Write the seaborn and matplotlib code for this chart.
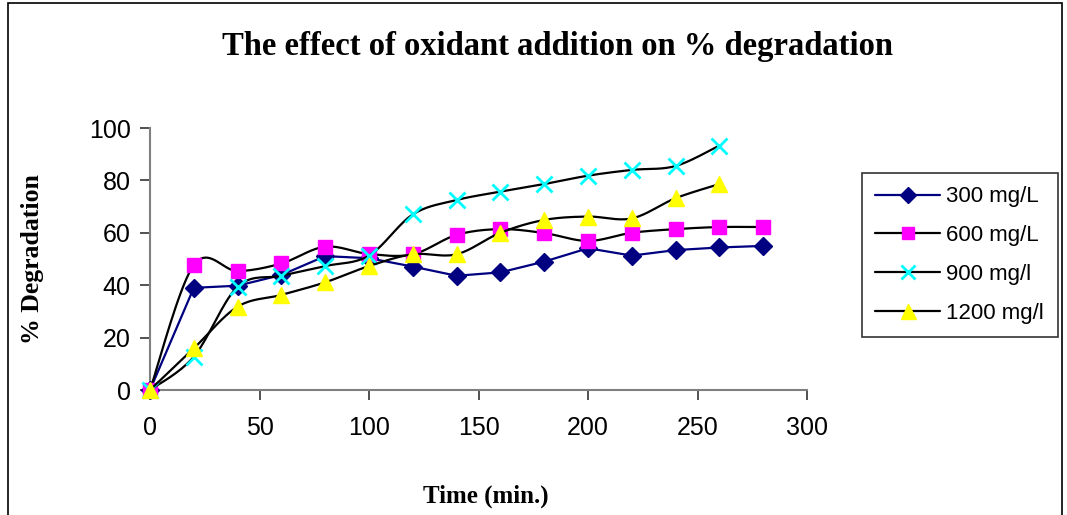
import numpy as np
import pandas as pd
import matplotlib
matplotlib.use("Agg")
import matplotlib.pyplot as plt
import seaborn as sns
from matplotlib.lines import Line2D
from matplotlib.patches import Rectangle

# ---- data ----
time_min = [0, 20, 40, 60, 80, 100, 120, 140, 160, 180, 200, 220, 240, 260, 280]
deg_300 = [0, 39.0, 39.8, 43.9, 51.1, 50.3, 47.1, 43.6, 44.9, 49.0, 54.1, 51.3, 53.4, 54.4, 55.0]
deg_600 = [0, 47.7, 45.4, 48.3, 54.7, 51.9, 51.8, 59.2, 61.4, 59.9, 56.9, 60.0, 61.4, 62.2, 62.2]
time_900 = [0, 20, 40, 60, 80, 100, 120, 140, 160, 180, 200, 220, 240, 260]
deg_900 = [0, 12.7, 39.4, 43.6, 47.3, 51.3, 67.0, 72.5, 75.7, 78.6, 81.8, 84.0, 85.5, 93.3]
time_1200 = [0, 20, 40, 60, 80, 100, 120, 140, 160, 180, 200, 220, 240, 260]
deg_1200 = [0, 15.9, 31.8, 36.3, 41.1, 47.3, 51.8, 51.8, 60.0, 64.9, 66.2, 65.5, 73.2, 78.6]

labels = ["300 mg/L", "600 mg/L", "900 mg/l", "1200 mg/l"]
x_ticks = [0, 50, 100, 150, 200, 250, 300]
y_ticks = [0, 20, 40, 60, 80, 100]
title = "The effect of oxidant addition on % degradation"
xlabel = "Time (min.)"
ylabel = "% Degradation"


def smooth_curve(x, y, n=20):
    """Excel-style smoothed line (Catmull-Rom / Bezier) through the data points."""
    x = np.asarray(x, float)
    y = np.asarray(y, float)
    px = np.concatenate([[x[0]], x, [x[-1]]])
    py = np.concatenate([[y[0]], y, [y[-1]]])
    xs, ys = [], []
    t = np.linspace(0, 1, n)
    for i in range(1, len(px) - 2):
        p0 = np.array([px[i], py[i]])
        p3 = np.array([px[i + 1], py[i + 1]])
        c1 = p0 + (np.array([px[i + 1], py[i + 1]]) - np.array([px[i - 1], py[i - 1]])) / 6.0
        c2 = p3 - (np.array([px[i + 2], py[i + 2]]) - np.array([px[i], py[i]])) / 6.0
        b = ((1 - t) ** 3)[:, None] * p0 + (3 * (1 - t) ** 2 * t)[:, None] * c1 \
            + (3 * (1 - t) * t ** 2)[:, None] * c2 + (t ** 3)[:, None] * p3
        xs.extend(b[:, 0])
        ys.extend(b[:, 1])
    return np.array(xs), np.array(ys)


sns.set_style("white")
plt.rcParams["font.family"] = ["Liberation Sans", "DejaVu Sans"]
plt.rcParams["text.color"] = "black"
plt.rcParams["xtick.color"] = "black"
plt.rcParams["ytick.color"] = "black"

fig = plt.figure(figsize=(10.67, 5.15), dpi=100)
ax = fig.add_axes([150 / 1067, 1 - 390 / 515, (807 - 150) / 1067, (390 - 128) / 515])

navy = "#000080"
series = [
    (time_min, deg_300, labels[0], "D", navy, navy, False, 9),
    (time_min, deg_600, labels[1], "s", "#FF00FF", "black", True, 10),
    (time_900, deg_900, labels[2], "x", "#00FFFF", "black", True, 11),
    (time_1200, deg_1200, labels[3], "^", "#FFFF00", "black", True, 12),
]

handles = []
for i, (xv, yv, lab, mk, mcol, lcol, smooth, ms) in enumerate(series):
    if smooth:
        sx, sy = smooth_curve(xv, yv)
        ax.plot(sx, sy, color=lcol, lw=1.6, zorder=2 + i, clip_on=False)
    else:
        sns.lineplot(x=xv, y=yv, ax=ax, color=lcol, lw=1.6, zorder=2 + i,
                     estimator=None, sort=False, legend=False)
    kw = dict(marker=mk, color=mcol, linestyle="none", markersize=ms, zorder=3 + i,
              clip_on=False)
    if mk == "x":
        kw.update(markeredgewidth=2)
    else:
        kw.update(markeredgecolor=mcol)
    ax.plot(xv, yv, **kw)
    handles.append(Line2D([0], [0], color=lcol, lw=1.6, marker=mk, markerfacecolor=mcol,
                          markeredgecolor=mcol, markersize=ms * 0.9,
                          markeredgewidth=2 if mk == "x" else 1))

ax.set_xlim(0, 300)
ax.set_ylim(0, 100)
ax.set_xticks(x_ticks)
ax.set_yticks(y_ticks)
ax.tick_params(axis="both", labelsize=18, length=7, width=1.2, color="#333333",
               labelcolor="black", direction="out", bottom=True, left=True)
ax.tick_params(axis="x", pad=12)
ax.tick_params(axis="y", pad=7)
for s in ["top", "right"]:
    ax.spines[s].set_visible(False)
for s in ["left", "bottom"]:
    ax.spines[s].set_color("#808080")
    ax.spines[s].set_linewidth(1.5)
ax.set_xlabel("")
ax.set_ylabel("")

serif = ["Liberation Serif", "DejaVu Serif"]
fig.text(557 / 1067, 1 - 47 / 515, title, ha="center", va="center",
         fontsize=23.5, fontweight="bold", family=serif, color="black")
fig.text(486 / 1067, 1 - 496 / 515, xlabel, ha="center", va="center",
         fontsize=18, fontweight="bold", family=serif, color="black")
fig.text(33 / 1067, 1 - 259 / 515, ylabel, ha="center", va="center", rotation=90,
         fontsize=18.5, fontweight="bold", family=serif, color="black")

leg = fig.legend(handles=handles, labels=labels, loc="upper left",
                 bbox_to_anchor=(862 / 1067, 1 - 173 / 515), fontsize=16,
                 frameon=True, fancybox=False, edgecolor="black", handlelength=2.9,
                 labelspacing=0.8, borderpad=0.6, handletextpad=0.3, borderaxespad=0)
leg.get_frame().set_linewidth(1.2)
for t in leg.get_texts():
    t.set_color("black")

# outer chart border
fig.patches.append(Rectangle((8 / 1067, -0.05), (1062 - 8) / 1067, 1.05 - 3 / 515,
                             transform=fig.transFigure, fill=False, edgecolor="black",
                             lw=1.2))

fig.savefig("out.png", dpi=100)
